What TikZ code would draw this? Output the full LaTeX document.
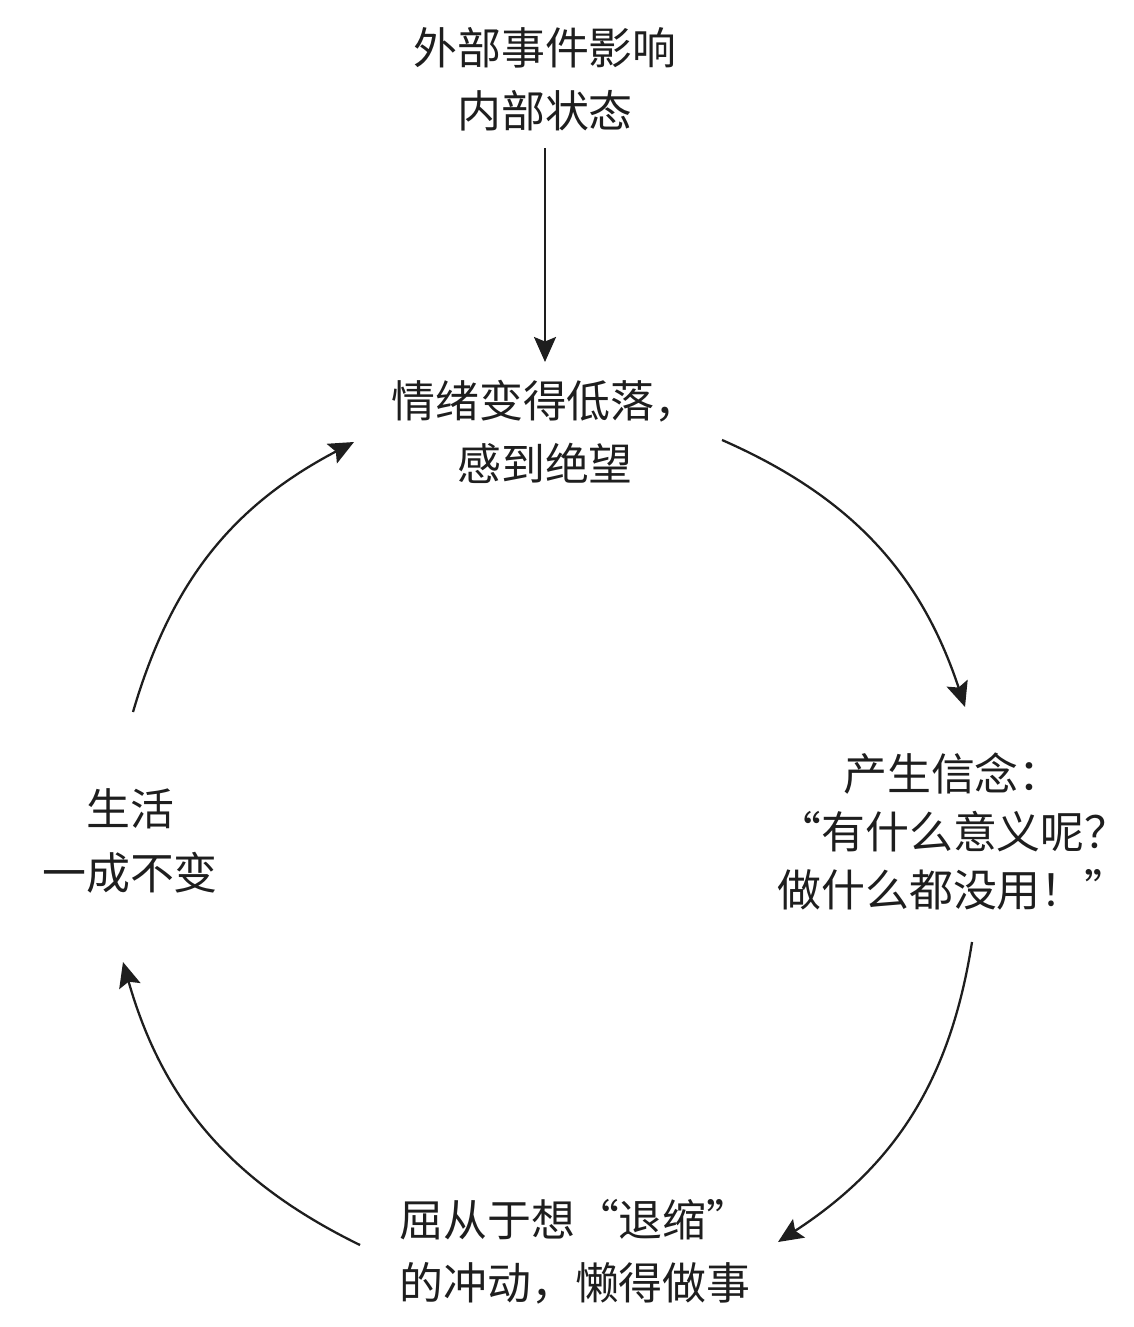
\documentclass[tikz,border=0pt]{standalone}
\usepackage{fontspec}
\setmainfont{Noto Sans CJK SC}
\usetikzlibrary{arrows.meta}
\definecolor{ink}{HTML}{1E1E1E}
\begin{document}
\begin{tikzpicture}[x=0.02cm,y=-0.02cm,
  label/.style={align=center,inner sep=0pt,text=ink,
    font=\fontsize{25}{36}\selectfont},
  flow/.style={draw=ink,line width=1.3pt,
    -{Stealth[length=0.5cm,width=0.44cm,inset=0.09cm]}}]
\useasboundingbox (0,0) rectangle (1133,1327);

% stages of the cycle
\node[label] (outer)    at (545,79)   {外部事件影响\\内部状态};
\node[label] (mood)     at (545,432)  {情绪变得低落，\\感到绝望};
\node[label,font=\fontsize{25}{33}\selectfont]
             (belief)   at (953,832)  {产生信念：\\“有什么意义呢？\\做什么都没用！”};
\node[label] (withdraw) at (575,1252) {屈从于想“退缩”\\的冲动，懒得做事};
\node[label] (life)     at (130,841)  {生活\\一成不变};

% arrow ends around the loop
\coordinate (o-end)  at (545,362);
\coordinate (m-out)  at (722,440);
\coordinate (b-in)   at (965,707);
\coordinate (b-out)  at (972,942);
\coordinate (w-in)   at (778,1242);
\coordinate (w-out)  at (360,1245);
\coordinate (l-in)   at (123,962);
\coordinate (l-out)  at (133,712);
\coordinate (m-in)   at (354,442);

\draw[flow] (outer.south) ++(0,17) -- (o-end);
\draw[flow] (m-out) to[bend left=24] (b-in);
\draw[flow] (b-out) to[bend left=24] (w-in);
\draw[flow] (w-out) to[bend left=24] (l-in);
\draw[flow] (l-out) to[bend left=23] (m-in);
\end{tikzpicture}
\end{document}
